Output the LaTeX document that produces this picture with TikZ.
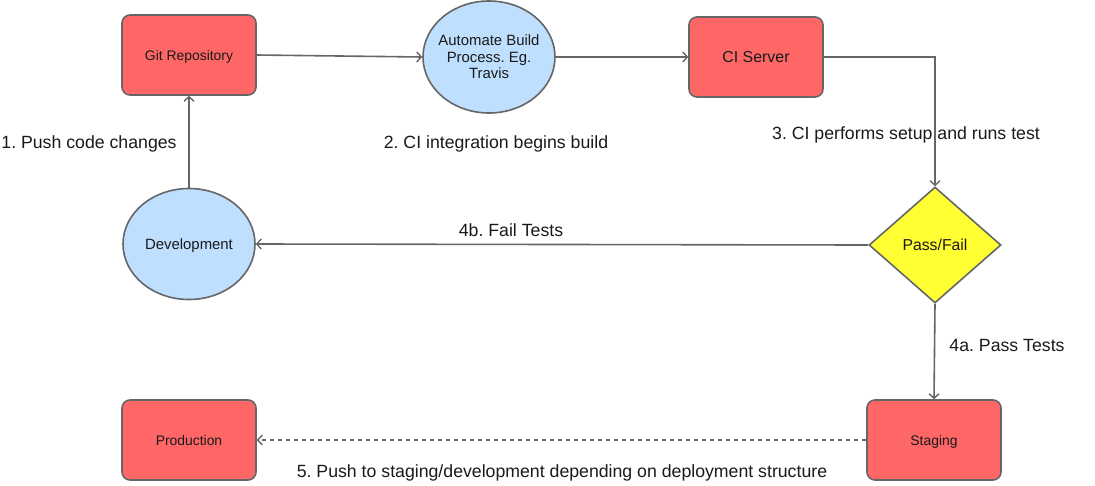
\documentclass[tikz,border=0pt]{standalone}
\usepackage{fontspec}
\setmainfont{Liberation Sans}
\usetikzlibrary{shapes.geometric,arrows.meta}
\definecolor{redfill}{HTML}{FF6666}
\definecolor{bluefill}{HTML}{BFDFFF}
\definecolor{yellowfill}{HTML}{FFFF33}
\definecolor{edge}{HTML}{666666}
\definecolor{txt}{HTML}{1A1A1A}
\tikzset{
  box/.style={draw=edge, line width=1.6pt, fill=redfill, rounded corners=8pt,
    minimum width=134pt, minimum height=80pt, inner sep=0pt, text=txt, text depth=0pt},
  oval/.style={draw=edge, line width=1.6pt, fill=bluefill, ellipse,
    minimum width=132pt, minimum height=112pt, inner sep=0pt, align=center, text=txt},
  dia/.style={draw=edge, line width=1.6pt, fill=yellowfill, diamond,
    minimum width=132pt, minimum height=116pt, inner sep=0pt, text=txt, text depth=0pt},
  conn/.style={draw=edge, line width=1.6pt, -{Straight Barb[length=4.5pt,width=10pt,line width=1.4pt]}},
  lbl/.style={text=txt, font=\fontsize{17.7}{20}\selectfont, inner sep=0pt, text depth=0pt}
}
\begin{document}
\frenchspacing
\begin{tikzpicture}[x=1pt,y=-1pt]
\useasboundingbox (0,0) rectangle (1095,485);
\node[box, font=\fontsize{13.9}{16}\selectfont] (git) at (189,55) {Git Repository};
\node[oval, font=\fontsize{14.9}{16.5}\selectfont, inner xsep=-5pt] (auto) at (489,57) {Automate Build\\Process. Eg.\\Travis};
\node[box, font=\fontsize{15.9}{18}\selectfont] (ci) at (756,57) {CI Server};
\node[dia, font=\fontsize{15.8}{18}\selectfont] (pf) at (935,245) {Pass/Fail};
\node[oval, font=\fontsize{14.9}{16.5}\selectfont, minimum height=111pt, text depth=0pt] (dev) at (189,244) {Development};
\node[box, font=\fontsize{13.9}{16}\selectfont] (prod) at (189,440) {Production};
\node[box, font=\fontsize{13.9}{16}\selectfont] (stag) at (934,440) {Staging};
\coordinate (corner) at (935,57);
\draw[conn] (git.east) -- (auto.west);
\draw[conn] (auto.east) -- (ci.west);
\draw[conn] (ci.east) -- (corner) -- (pf.north);
\draw[conn] (pf.west) -- (dev.east);
\draw[conn] (dev.north) -- (git.south);
\draw[conn] (pf.south) -- (stag.north);
\draw[conn, dash pattern=on 4pt off 4pt] (stag.west) -- (prod.east);
\node[lbl] (l1) at (89,142) {1. Push code changes};
\node[lbl] (l2) at (496,142) {2. CI integration begins build};
\node[lbl] (l3) at (906,133) {3. CI performs setup and runs test};
\node[lbl] (l4b) at (511,230) {4b. Fail Tests};
\node[lbl] (l4a) at (1007,345) {4a. Pass Tests};
\node[lbl] (l5) at (562,471) {5. Push to staging/development depending on deployment structure};
\end{tikzpicture}
\end{document}
